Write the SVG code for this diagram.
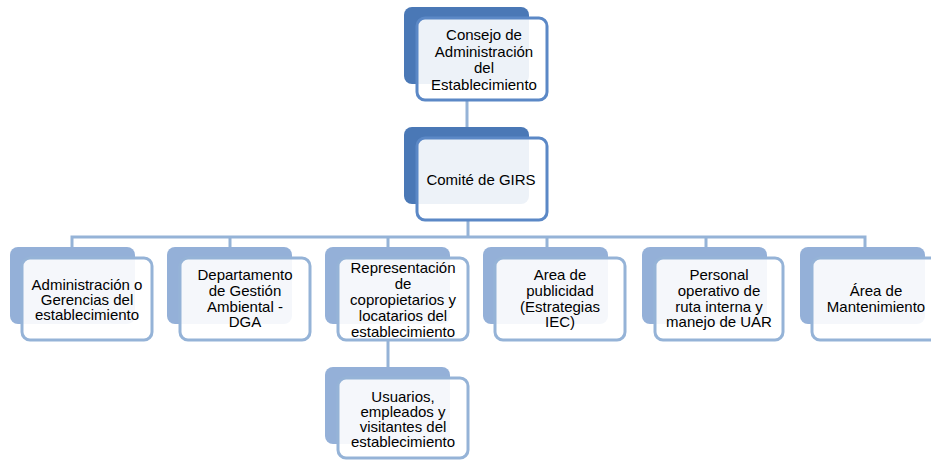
<svg xmlns="http://www.w3.org/2000/svg" width="931" height="460" viewBox="0 0 931 460">
<style>
.bg{fill:#ffffff}
.back1{fill:#4a78b6}
.back2{fill:#94b0d8}
.front1{fill:#ffffff;fill-opacity:0.9;stroke:#5b88c6;stroke-width:3}
.front2{fill:#ffffff;fill-opacity:0.9;stroke:#95b3d7;stroke-width:3}
.conn{stroke:#95b3d7;stroke-width:3;fill:none}
text{font-family:"Liberation Sans",Arial,sans-serif;font-size:15px;fill:#000;text-anchor:middle}
</style>
<rect class="bg" x="0" y="0" width="931" height="460"/>
<g id="connectors">
<line class="conn" x1="467" y1="100" x2="467" y2="138"/>
<line class="conn" x1="468" y1="220" x2="468" y2="237"/>
<polyline class="conn" points="72,247 72,237 865,237 865,247"/>
<line class="conn" x1="230" y1="237" x2="230" y2="247"/>
<line class="conn" x1="388" y1="237" x2="388" y2="247"/>
<line class="conn" x1="547" y1="237" x2="547" y2="247"/>
<line class="conn" x1="706" y1="237" x2="706" y2="247"/>
<line class="conn" x1="388" y1="340" x2="388" y2="378"/>
</g>
<g id="n-consejo">
<rect class="back1" x="404" y="7" width="125" height="77" rx="8"/>
<rect class="front1" x="417" y="18" width="130" height="82" rx="8"/>
<text x="484" y="40">Consejo de</text>
<text x="484" y="57">Administración</text>
<text x="484" y="73">del</text>
<text x="484" y="90">Establecimiento</text>
</g>
<g id="n-comite">
<rect class="back1" x="404" y="127" width="125" height="77" rx="8"/>
<rect class="front1" x="417" y="138" width="130" height="82" rx="8"/>
<text x="481" y="185">Comité de GIRS</text>
</g>
<g id="n-admin">
<rect class="back2" x="10" y="247" width="125" height="77" rx="8"/>
<rect class="front2" x="22" y="258" width="130" height="82" rx="8"/>
<text x="87" y="290">Administración o</text>
<text x="87" y="305">Gerencias del</text>
<text x="87" y="320">establecimiento</text>
</g>
<g id="n-dga">
<rect class="back2" x="167" y="247" width="125" height="77" rx="8"/>
<rect class="front2" x="180" y="258" width="130" height="82" rx="8"/>
<text x="245" y="280">Departamento</text>
<text x="245" y="296">de Gestión</text>
<text x="245" y="312">Ambiental -</text>
<text x="245" y="327">DGA</text>
</g>
<g id="n-rep">
<rect class="back2" x="325" y="247" width="125" height="77" rx="8"/>
<rect class="front2" x="338" y="258" width="130" height="82" rx="8"/>
<text x="403" y="273">Representación</text>
<text x="403" y="289">de</text>
<text x="403" y="305">copropietarios y</text>
<text x="403" y="321">locatarios del</text>
<text x="403" y="337">establecimiento</text>
</g>
<g id="n-publicidad">
<rect class="back2" x="483" y="247" width="125" height="77" rx="8"/>
<rect class="front2" x="495" y="258" width="130" height="82" rx="8"/>
<text x="560" y="280">Area de</text>
<text x="560" y="296">publicidad</text>
<text x="560" y="312">(Estrategias</text>
<text x="560" y="327">IEC)</text>
</g>
<g id="n-personal">
<rect class="back2" x="642" y="247" width="125" height="77" rx="8"/>
<rect class="front2" x="655" y="258" width="128" height="82" rx="8"/>
<text x="719" y="280">Personal</text>
<text x="719" y="296">operativo de</text>
<text x="719" y="312">ruta interna y</text>
<text x="719" y="327">manejo de UAR</text>
</g>
<g id="n-mantenimiento">
<rect class="back2" x="800" y="247" width="125" height="77" rx="8"/>
<rect class="front2" x="812" y="258" width="130" height="82" rx="8"/>
<text x="876" y="296">Área de</text>
<text x="876" y="312">Mantenimiento</text>
</g>
<g id="n-usuarios">
<rect class="back2" x="325" y="367" width="125" height="77" rx="8"/>
<rect class="front2" x="338" y="378" width="130" height="80" rx="8"/>
<text x="403" y="402">Usuarios,</text>
<text x="403" y="417">empleados y</text>
<text x="403" y="432">visitantes del</text>
<text x="403" y="447">establecimiento</text>
</g>
</svg>
